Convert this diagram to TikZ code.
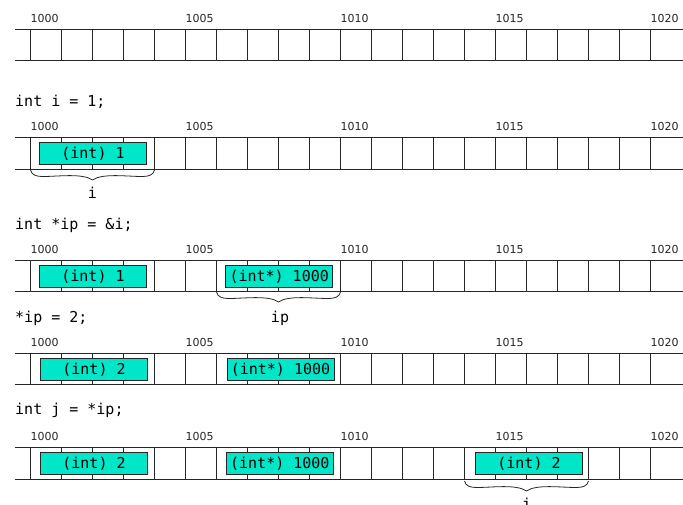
\documentclass[tikz,border=0pt]{standalone}
\usepackage{fontspec}
\setmainfont{DejaVu Sans}
\setmonofont{DejaVu Sans Mono}
\definecolor{valcol}{RGB}{0,230,200}
\newcommand{\curlybrace}[1]{%
  \draw[bracepath] (#1) .. controls +(1,5) and +(-6,0) .. ++(12,6.5)
    .. controls +(16,0) and +(-10,-7) .. ++(50,3.5)
    .. controls +(10,-7) and +(-16,0) .. ++(50,-3.5)
    .. controls +(6,0) and +(-1,5) .. ++(12,-6.5);}
\begin{document}
\begin{tikzpicture}[x=1pt,y=-1pt,
  cellline/.style={draw=black!85, line width=0.9pt},
  addr/.style={font=\fontsize{11}{11}\selectfont, anchor=base west, inner sep=0pt, text=black!85},
  code/.style={font=\ttfamily\fontsize{15}{15}\selectfont, anchor=base west, inner sep=0pt},
  valbox/.style={draw=black!85, line width=0.8pt, fill=valcol, font=\ttfamily\fontsize{15}{15}\selectfont, inner sep=0pt, minimum width=107pt, minimum height=22pt},
  bracelbl/.style={font=\ttfamily\fontsize{15}{15}\selectfont, anchor=base, inner sep=0pt},
  bracepath/.style={draw=black!85, line width=0.8pt}]
\useasboundingbox (0,0) rectangle (683,504);
% memory rows
\foreach \r/\t/\b in {1/29/60, 2/137.7/169, 3/260.3/291, 4/353.7/384.3, 5/447.7/479} {
  \draw[cellline] (15,\t) -- (683,\t) (15,\b) -- (683,\b);
  \foreach \k in {0,...,20} \draw[cellline] ({30.5+31*\k},\t) -- ({30.5+31*\k},\b);
  \foreach \k/\a in {0/1000,5/1005,10/1010,15/1015,20/1020}
    \node[addr] (a\r-\k) at ({30.5+31*\k},\t-7) {\a};
}
% code lines
\node[code] (c2) at (15,106) {int i = 1;};
\node[code] (c3) at (15,229.3) {int *ip = \&i;};
\node[code] (c4) at (15,322) {*ip = 2;};
\node[code] (c5) at (15,414) {int j = *ip;};
% value boxes
\node[valbox] (v2i) at (93,153.6) {(int) 1};
\node[valbox] (v3i) at (93,276.5) {(int) 1};
\node[valbox] (v3p) at (279.2,276.5) {(int*) 1000};
\node[valbox] (v4i) at (94,369.5) {(int) 2};
\node[valbox] (v4p) at (280.5,369.5) {(int*) 1000};
\node[valbox] (v5i) at (94,463.8) {(int) 2};
\node[valbox] (v5p) at (279.8,463.8) {(int*) 1000};
\node[valbox] (v5j) at (529,463.8) {(int) 2};
% braces
\coordinate (b2l) at (30.5,170);
\coordinate (b3l) at (216.5,292);
\coordinate (b5l) at (464.5,481);
\curlybrace{b2l}
\curlybrace{b3l}
\curlybrace{b5l}
\node[bracelbl] (li) at (92.5,198) {i};
\node[bracelbl] (lip) at (280,322) {ip};
\node[bracelbl] (lj) at (526.5,509) {j};
\end{tikzpicture}
\end{document}
